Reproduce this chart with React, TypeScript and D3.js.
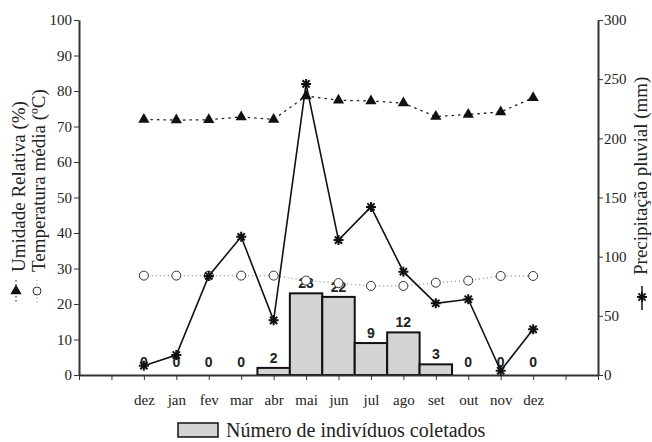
import React, { useEffect, useRef } from 'react';
import * as d3 from 'd3';

// months on the x axis (two empty slots before, two after)
const months = ['dez', 'jan', 'fev', 'mar', 'abr', 'mai', 'jun', 'jul', 'ago', 'set', 'out', 'nov', 'dez'];
// Umidade Relativa (%)
const humidity = [72.0, 71.8, 71.9, 72.7, 72.0, 78.6, 77.4, 77.2, 76.6, 72.8, 73.4, 74.1, 78.1];
// Temperatura média (ºC)
const temperature = [28.0, 28.0, 28.0, 28.0, 28.0, 26.6, 25.9, 25.1, 25.1, 26.0, 26.6, 27.9, 27.9];
// Precipitação pluvial (mm)
const precipitation = [7.9, 16.9, 83.7, 116.8, 46.2, 246, 114, 142, 87.3, 60.6, 64, 3.6, 38.6];
// Número de indivíduos coletados
const individuals = [0, 0, 0, 0, 2, 23, 22, 9, 12, 3, 0, 0, 0];

const leftTicks = d3.range(0, 101, 10);
const rightTicks = d3.range(0, 301, 50);

const width = 652;
const height = 442;
const serif = '"Liberation Serif", "Times New Roman", serif';
const sans = '"Liberation Sans", Arial, sans-serif';

const App = () => {
    const chartRef = useRef<SVGSVGElement | null>(null);

    useEffect(() => {
        const svg = d3.select(chartRef.current);
        svg.selectAll('*').remove();

        const left = 79, right = 598, top = 20, bottom = 375;

        const x = d3.scaleLinear().domain([-2, 14]).range([left, right]);
        const step = x(1) - x(0);
        const yLeft = d3.scaleLinear().domain([0, 100]).range([bottom, top]);
        const yRight = d3.scaleLinear().domain([0, 300]).range([bottom, top]);

        // bars
        svg.append('g')
            .selectAll('rect')
            .data(individuals)
            .enter().append('rect')
            .attr('x', (d, i) => x(i) - step / 2)
            .attr('y', d => yLeft(d))
            .attr('width', step)
            .attr('height', d => bottom - yLeft(d))
            .attr('fill', '#d4d4d4')
            .attr('stroke', '#111')
            .attr('stroke-width', d => (d > 0 ? 2 : 0));

        // axes
        const styleAxis = (g: any) => {
            g.selectAll('path.domain').attr('stroke', '#333').attr('stroke-width', 2);
            g.selectAll('.tick line').attr('stroke', '#333').attr('stroke-width', 1);
            g.selectAll('text').attr('fill', '#222').style('font-family', serif).style('font-size', '15px');
        };

        svg.append('g')
            .attr('transform', `translate(${left},0)`)
            .call(d3.axisLeft(yLeft).tickValues(leftTicks).tickSize(5).tickSizeOuter(0).tickPadding(2))
            .call(styleAxis);

        svg.append('g')
            .attr('transform', `translate(${right},0)`)
            .call(d3.axisRight(yRight).tickValues(rightTicks).tickSize(5).tickSizeOuter(0).tickPadding(1))
            .call(styleAxis);

        svg.append('g')
            .attr('transform', `translate(0,${bottom})`)
            .call(d3.axisBottom(x)
                .tickValues(d3.range(-2, 15))
                .tickFormat((d: any) => months[d] ?? '')
                .tickSize(5).tickSizeOuter(0).tickPadding(14))
            .call(styleAxis);

        // bar labels
        svg.append('g')
            .selectAll('text')
            .data(individuals)
            .enter().append('text')
            .attr('x', (d, i) => x(i))
            .attr('y', d => yLeft(d) - (d > 0 ? 5 : 8))
            .attr('text-anchor', 'middle')
            .style('font-family', sans)
            .style('font-weight', 'bold')
            .style('font-size', '14px')
            .attr('fill', '#222')
            .text(d => d);

        // temperature - dotted gray with open circles
        const tempLine = d3.line<number>().x((d, i) => x(i)).y(d => yLeft(d));
        svg.append('path')
            .attr('d', tempLine(temperature))
            .attr('fill', 'none')
            .attr('stroke', '#888')
            .attr('stroke-width', 1.2)
            .attr('stroke-dasharray', '1,3');
        svg.append('g')
            .selectAll('circle')
            .data(temperature)
            .enter().append('circle')
            .attr('cx', (d, i) => x(i))
            .attr('cy', d => yLeft(d))
            .attr('r', 4.5)
            .attr('fill', '#fff')
            .attr('stroke', '#333')
            .attr('stroke-width', 1);

        // humidity - short dashes, filled triangles
        svg.append('path')
            .attr('d', tempLine(humidity))
            .attr('fill', 'none')
            .attr('stroke', '#222')
            .attr('stroke-width', 1.3)
            .attr('stroke-dasharray', '2.5,4');
        const tri = d3.symbol().type(d3.symbolTriangle).size(55);
        svg.append('g')
            .selectAll('path')
            .data(humidity)
            .enter().append('path')
            .attr('transform', (d, i) => `translate(${x(i)},${yLeft(d)})`)
            .attr('d', tri())
            .attr('fill', '#111');

        // precipitation - solid with asterisks
        const rainLine = d3.line<number>().x((d, i) => x(i)).y(d => yRight(d));
        svg.append('path')
            .attr('d', rainLine(precipitation))
            .attr('fill', 'none')
            .attr('stroke', '#111')
            .attr('stroke-width', 1.6);
        const star = 'M-5,0L5,0M0,-5L0,5M-3.6,-3.6L3.6,3.6M-3.6,3.6L3.6,-3.6';
        svg.append('g')
            .selectAll('path')
            .data(precipitation)
            .enter().append('path')
            .attr('transform', (d, i) => `translate(${x(i)},${yRight(d)})`)
            .attr('d', star)
            .attr('stroke', '#111')
            .attr('stroke-width', 2);

        // left axis titles with their legend keys
        const titleFont = (t: any) => t.style('font-family', serif).style('font-size', '19px').attr('fill', '#222');
        svg.append('text')
            .attr('transform', 'translate(25,272) rotate(-90)')
            .text('Umidade Relativa (%)')
            .call(titleFont);
        svg.append('text')
            .attr('transform', 'translate(45,272) rotate(-90)')
            .text('Temperatura média (ºC)')
            .call(titleFont);
        svg.append('line')
            .attr('x1', 16).attr('x2', 16).attr('y1', 280).attr('y2', 303)
            .attr('stroke', '#222').attr('stroke-dasharray', '1.5,2.5');
        svg.append('path')
            .attr('transform', 'translate(16,291)')
            .attr('d', tri())
            .attr('fill', '#111');
        svg.append('line')
            .attr('x1', 37).attr('x2', 37).attr('y1', 280).attr('y2', 303)
            .attr('stroke', '#888').attr('stroke-dasharray', '1,2.5');
        svg.append('circle')
            .attr('cx', 37).attr('cy', 291).attr('r', 4)
            .attr('fill', '#fff').attr('stroke', '#333');

        // right axis title with legend key
        svg.append('text')
            .attr('transform', 'translate(647,275) rotate(-90)')
            .text('Precipitação pluvial (mm)')
            .call(titleFont);
        svg.append('line')
            .attr('x1', 642).attr('x2', 642).attr('y1', 286).attr('y2', 310)
            .attr('stroke', '#111').attr('stroke-width', 1.5);
        svg.append('path')
            .attr('transform', 'translate(642,297)')
            .attr('d', star)
            .attr('stroke', '#111')
            .attr('stroke-width', 2);

        // bottom legend
        svg.append('rect')
            .attr('x', 178).attr('y', 423).attr('width', 40).attr('height', 14)
            .attr('fill', '#d4d4d4').attr('stroke', '#111').attr('stroke-width', 1.5);
        svg.append('text')
            .attr('x', 226).attr('y', 437)
            .style('font-family', serif).style('font-size', '20px').attr('fill', '#222')
            .text('Número de indivíduos coletados');
    }, []);

    return (
        <svg ref={chartRef} width={width} height={height}
            style={{ position: 'absolute', left: 0, top: 0, background: '#fff' }}></svg>
    );
};

export default App;
